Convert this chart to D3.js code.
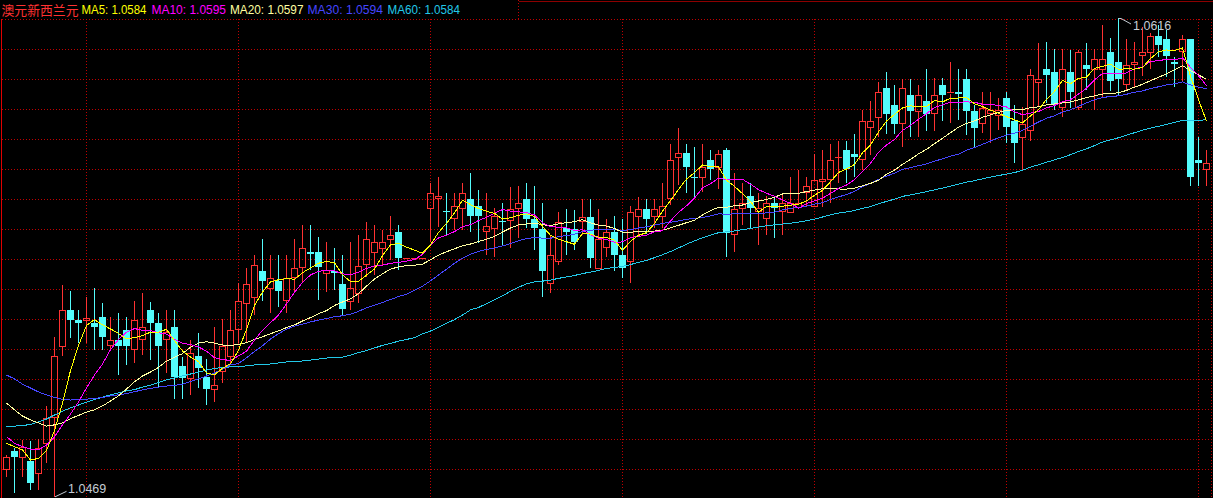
<!DOCTYPE html>
<html><head><meta charset="utf-8">
<script src="https://cdn.jsdelivr.net/npm/d3@7/dist/d3.min.js"></script>
<style>
html,body{margin:0;padding:0;background:#000;overflow:hidden}
svg{display:block}
</style></head><body>
<svg id="chart" width="1213" height="498"></svg>
<script>
// ---------------- data ----------------
const title = "澳元新西兰元";
const opens = [1.04775,1.04831,1.04813,1.04800,1.04762,1.04854,1.04936,1.05154,1.05264,1.05233,
1.05234,1.05223,1.05243,1.05156,1.05171,1.05202,1.05143,1.05174,1.05264,1.05225,
1.05174,1.05212,1.05093,1.05054,1.05122,1.05059,1.05022,1.05077,1.05122,1.05204,
1.05284,1.05304,1.05384,1.05330,1.05353,1.05294,1.05364,1.05395,1.05443,1.05443,
1.05376,1.05383,1.05343,1.05292,1.05315,1.05404,1.05443,1.05455,1.05482,1.05503,
1.05424,1.05424,1.05424,1.05576,1.05606,1.05566,1.05545,1.05576,1.05603,1.05583,
1.05506,1.05514,1.05536,1.05540,1.05576,1.05603,1.05542,1.05511,1.05346,1.05415,
1.05514,1.05511,1.05538,1.05550,1.05393,1.05456,1.05502,1.05432,1.05415,1.05553,
1.05573,1.05553,1.05553,1.05606,1.05734,1.05745,1.05672,1.05673,1.05724,1.05703,
1.05755,1.05497,1.05576,1.05614,1.05567,1.05545,1.05591,1.05568,1.05565,1.05581,
1.05627,1.05584,1.05661,1.05665,1.05732,1.05755,1.05742,1.05726,1.05824,1.05855,
1.05944,1.05893,1.05837,1.05924,1.05875,1.05905,1.05867,1.05954,1.05931,1.05934,
1.05973,1.05875,1.05837,1.05869,1.05862,1.05913,1.05844,1.05796,1.05816,1.05964,
1.06003,1.05995,1.05886,1.05995,1.05888,1.06016,1.06003,1.06003,1.06055,1.06026,
1.05957,1.06019,1.06046,1.06057,1.06105,1.06095,1.06026,1.06059,1.06095,1.05724,
1.05696];
const highs = [1.04818,1.04840,1.04864,1.04861,1.04868,1.04969,1.05181,1.05340,1.05322,1.05264,
1.05303,1.05331,1.05285,1.05242,1.05254,1.05242,1.05291,1.05316,1.05288,1.05254,
1.05264,1.05264,1.05119,1.05171,1.05193,1.05113,1.05211,1.05236,1.05264,1.05346,
1.05392,1.05432,1.05482,1.05432,1.05432,1.05432,1.05482,1.05525,1.05525,1.05488,
1.05472,1.05454,1.05432,1.05472,1.05494,1.05534,1.05525,1.05509,1.05552,1.05525,
1.05424,1.05424,1.05424,1.05653,1.05672,1.05623,1.05623,1.05653,1.05684,1.05632,
1.05623,1.05577,1.05592,1.05641,1.05644,1.05653,1.05644,1.05592,1.05494,1.05564,
1.05574,1.05571,1.05604,1.05604,1.05574,1.05543,1.05552,1.05543,1.05583,1.05610,
1.05604,1.05604,1.05653,1.05773,1.05822,1.05773,1.05764,1.05773,1.05755,1.05755,
1.05761,1.05684,1.05653,1.05653,1.05623,1.05614,1.05614,1.05617,1.05672,1.05693,
1.05672,1.05742,1.05755,1.05773,1.05782,1.05782,1.05804,1.05878,1.05905,1.05964,
1.05994,1.05954,1.05973,1.05973,1.05954,1.06003,1.05976,1.05976,1.06025,1.06003,
1.06003,1.05893,1.05933,1.05933,1.05914,1.05933,1.05893,1.05887,1.06003,1.06083,
1.06086,1.06065,1.06065,1.06062,1.06062,1.06083,1.06065,1.06139,1.06099,1.06160,
1.06096,1.06086,1.06132,1.06114,1.06139,1.06123,1.06040,1.06108,1.06095,1.05795,
1.05755];
const lows = [1.04751,1.04702,1.04751,1.04711,1.04711,1.04794,1.04690,1.05122,1.05178,1.05162,
1.05162,1.05141,1.05141,1.05141,1.05064,1.05095,1.05101,1.05125,1.05110,1.05027,
1.05070,1.04990,1.04990,1.05003,1.05024,1.04972,1.04981,1.05039,1.05101,1.05162,
1.05162,1.05248,1.05291,1.05254,1.05273,1.05254,1.05319,1.05346,1.05386,1.05294,
1.05319,1.05325,1.05248,1.05264,1.05285,1.05365,1.05371,1.05402,1.05417,1.05386,
1.05424,1.05424,1.05424,1.05472,1.05518,1.05494,1.05509,1.05509,1.05503,1.05469,
1.05432,1.05426,1.05463,1.05454,1.05485,1.05515,1.05448,1.05303,1.05316,1.05402,
1.05432,1.05448,1.05494,1.05392,1.05389,1.05426,1.05383,1.05362,1.05346,1.05494,
1.05497,1.05515,1.05515,1.05586,1.05647,1.05623,1.05607,1.05626,1.05663,1.05635,
1.05426,1.05442,1.05525,1.05512,1.05463,1.05494,1.05485,1.05494,1.05561,1.05577,
1.05580,1.05580,1.05580,1.05592,1.05653,1.05653,1.05672,1.05693,1.05739,1.05795,
1.05804,1.05804,1.05764,1.05795,1.05795,1.05813,1.05813,1.05844,1.05838,1.05847,
1.05801,1.05761,1.05807,1.05776,1.05816,1.05776,1.05715,1.05693,1.05782,1.05887,
1.05899,1.05878,1.05856,1.05884,1.05878,1.05939,1.05878,1.05917,1.05936,1.05924,
1.05936,1.05948,1.05982,1.06003,1.06040,1.05979,1.05948,1.05964,1.05644,1.05644,
1.05644];
const closes = [1.04811,1.04813,1.04844,1.04733,1.04839,1.04931,1.05122,1.05264,1.05233,1.05223,
1.05239,1.05212,1.05182,1.05171,1.05154,1.05154,1.05233,1.05212,1.05225,1.05154,
1.05197,1.05059,1.05054,1.05131,1.05085,1.05022,1.05032,1.05153,1.05202,1.05291,
1.05343,1.05402,1.05353,1.05361,1.05323,1.05361,1.05392,1.05453,1.05435,1.05395,
1.05386,1.05376,1.05266,1.05330,1.05400,1.05481,1.05471,1.05471,1.05493,1.05424,
1.05424,1.05424,1.05424,1.05622,1.05614,1.05564,1.05583,1.05622,1.05553,1.05553,
1.05522,1.05552,1.05534,1.05573,1.05591,1.05542,1.05514,1.05384,1.05432,1.05533,
1.05504,1.05473,1.05550,1.05424,1.05482,1.05502,1.05432,1.05393,1.05564,1.05573,
1.05543,1.05573,1.05583,1.05724,1.05745,1.05703,1.05670,1.05703,1.05696,1.05742,
1.05501,1.05573,1.05591,1.05576,1.05577,1.05591,1.05576,1.05591,1.05591,1.05591,
1.05644,1.05663,1.05665,1.05724,1.05733,1.05696,1.05734,1.05844,1.05844,1.05932,
1.05865,1.05835,1.05944,1.05875,1.05924,1.05865,1.05924,1.05924,1.05933,1.05926,
1.05875,1.05823,1.05883,1.05878,1.05878,1.05824,1.05775,1.05835,1.05985,1.05973,
1.05985,1.05896,1.06003,1.05934,1.06055,1.06003,1.06033,1.06033,1.05967,1.05973,
1.06016,1.06026,1.06057,1.06105,1.06077,1.06044,1.06018,1.06095,1.05673,1.05716,
1.05714];
// moving-average values shown before enough bars exist on screen
const ma5Lead  = [1.04854,1.04844,1.04834,1.04803];
const ma10Lead = [1.04875,1.04854,1.04844,1.04836,1.04834,1.04849,1.04874,1.04911,1.04944];
const ma20Lead = [1.04978,1.04957,1.04938,1.04926,1.04917,1.04907,1.04911,1.04917,1.04930,1.04940,
1.04950,1.04957,1.04969,1.04984,1.05000,1.05021,1.05043,1.05061,1.05073];
const ma30Lead = [1.05064,1.05052,1.05036,1.05024,1.05012,1.05003,1.04995,1.04989,1.04987,1.04989,
1.04990,1.04992,1.04995,1.05000,1.05003,1.05007,1.05013,1.05018,1.05023,1.05027,
1.05030,1.05032,1.05036,1.05044,1.05052,1.05061,1.05070,1.05082,1.05095];
const ma60Lead = [1.04905,1.04907,1.04909,1.04912,1.04920,1.04929,1.04941,1.04953,1.04963,1.04972,
1.04981,1.04989,1.04996,1.05003,1.05009,1.05015,1.05019,1.05027,1.05033,1.05041,
1.05049,1.05055,1.05061,1.05067,1.05073,1.05079,1.05084,1.05087,1.05089,1.05090,
1.05092,1.05095,1.05096,1.05098,1.05101,1.05104,1.05105,1.05107,1.05110,1.05113,
1.05116,1.05118,1.05119,1.05125,1.05133,1.05139,1.05147,1.05155,1.05161,1.05168,
1.05173,1.05179,1.05190,1.05199,1.05210,1.05223,1.05234,1.05248,1.05264];
const maPeriods = [5, 10, 20, 30, 60];
const maNames = ["MA5", "MA10", "MA20", "MA30", "MA60"];
// latest moving-average readings printed in the header
const maLatest = [1.0584, 1.0595, 1.0597, 1.0594, 1.0584];
const monthStartBars = [10, 29, 53, 77, 101, 125, 149];

// ---------------- drawing ----------------
const W = 1213, H = 498;
const svg = d3.select("#chart").attr("shape-rendering", "crispEdges");
svg.append("rect").attr("width", W).attr("height", H).attr("fill", "#000");

const n = closes.length;
const x = d3.scaleBand().domain(d3.range(n)).range([2.5, 1210.5])
  .paddingInner(0.125).paddingOuter(0.0625);
const cx = i => x(i) + x.bandwidth() / 2;
const y = d3.scaleLinear().domain([1.0469, 1.0616]).range([496.83, 18]);

const RED = "#FF3232", CYAN = "#54FCFC", GRID = "#C00000";
const maColors = ["#FFFF00", "#FF00FF", "#FFFFA0", "#4646FF", "#22C8E8"];

// grid
const grid = svg.append("g");
d3.range(19.5, H, 30).forEach(gy => {
  grid.append("line").attr("x1", 2).attr("x2", W).attr("y1", gy).attr("y2", gy)
    .attr("stroke", GRID).attr("stroke-dasharray", "1,2");
});
monthStartBars.forEach(i => {
  grid.append("line").attr("x1", cx(i)).attr("x2", cx(i)).attr("y1", 19).attr("y2", H)
    .attr("stroke", GRID).attr("stroke-dasharray", "1,2");
});
grid.append("line").attr("x1", 1211.5).attr("x2", 1211.5).attr("y1", 19).attr("y2", H)
  .attr("stroke", GRID).attr("stroke-dasharray", "1,2");
grid.append("line").attr("x1", 518.5).attr("x2", 518.5).attr("y1", 0).attr("y2", 19)
  .attr("stroke", GRID).attr("stroke-dasharray", "1,2");
grid.append("line").attr("x1", 519).attr("x2", W).attr("y1", 1.5).attr("y2", 1.5)
  .attr("stroke", "#8C0000");
grid.append("line").attr("x1", 1.5).attr("x2", 1.5).attr("y1", 19).attr("y2", H)
  .attr("stroke", "#E00000");

// candles
const cg = svg.append("g");
closes.forEach((c, i) => {
  const o = opens[i], h = highs[i], l = lows[i];
  const xc = cx(i), x0 = x(i), bw = x.bandwidth();
  const top = Math.round(y(Math.max(o, c))), bot = Math.round(y(Math.min(o, c)));
  const yh = Math.round(y(h)), yl = Math.round(y(l));
  if (c >= o) {
    if (yh < top) cg.append("line").attr("x1", xc).attr("x2", xc).attr("y1", yh).attr("y2", top).attr("stroke", RED);
    if (yl > bot) cg.append("line").attr("x1", xc).attr("x2", xc).attr("y1", bot + 1).attr("y2", yl).attr("stroke", RED);
    if (bot - top <= 1) {
      cg.append("line").attr("x1", x0).attr("x2", x0 + bw).attr("y1", top + 0.5).attr("y2", top + 0.5).attr("stroke", RED);
    } else {
      cg.append("rect").attr("x", x0 + 0.5).attr("y", top + 0.5).attr("width", bw - 1).attr("height", bot - top)
        .attr("fill", "none").attr("stroke", RED);
    }
  } else {
    cg.append("line").attr("x1", xc).attr("x2", xc).attr("y1", yh).attr("y2", yl).attr("stroke", CYAN);
    cg.append("rect").attr("x", x0).attr("y", top).attr("width", bw).attr("height", Math.max(1, bot - top))
      .attr("fill", CYAN);
  }
});

// moving averages
const leads = [ma5Lead, ma10Lead, ma20Lead, ma30Lead, ma60Lead];
const maSeries = maPeriods.map((p, k) =>
  closes.map((c, i) => i < p - 1 ? leads[k][i] : d3.mean(closes.slice(i - p + 1, i + 1))));
const line = d3.line().x((v, i) => cx(i)).y(v => y(v));
const mg = svg.append("g");
[4, 3, 2, 1, 0].forEach(k => {
  mg.append("path").attr("d", line(maSeries[k])).attr("fill", "none")
    .attr("stroke", maColors[k]).attr("stroke-width", 1);
});

// extreme labels
const LBL = "#C4CCD4";
const iMax = d3.maxIndex(highs), iMin = d3.minIndex(lows);
const hx = cx(iMax), hy = y(highs[iMax]);
svg.append("path").attr("d", `M${hx},${hy + 0.5}h2.5l10,5.5`).attr("fill", "none").attr("stroke", LBL)
  .attr("shape-rendering", "auto");
svg.append("text").attr("x", hx + 14.5).attr("y", hy + 11.5).attr("fill", LBL)
  .attr("font-family", "Liberation Sans, Arial, sans-serif").attr("font-size", 12.5)
  .text(highs[iMax].toFixed(4));
const lx = cx(iMin), ly = y(lows[iMin]);
svg.append("path").attr("d", `M${lx + 0.5},${ly}l11.5,-5.5`).attr("fill", "none").attr("stroke", LBL)
  .attr("shape-rendering", "auto");
svg.append("text").attr("x", lx + 13.5).attr("y", ly - 3.5).attr("fill", LBL)
  .attr("font-family", "Liberation Sans, Arial, sans-serif").attr("font-size", 12.5)
  .text(lows[iMin].toFixed(4));

// header
const hdr = svg.append("g").attr("shape-rendering", "auto");
hdr.append("text").attr("x", 1.5).attr("y", 15).attr("fill", "#FF3232")
  .attr("font-family", "Noto Sans CJK SC, sans-serif").attr("font-size", 13)
  .attr("textLength", 77).attr("lengthAdjust", "spacingAndGlyphs").text(title);
const hdrX = [81.5, 151.5, 230, 307.5, 387.5];
const hdrW = [65, 74.5, 73.5, 75.5, 72.5];
maPeriods.forEach((p, k) => {
  hdr.append("text").attr("x", hdrX[k]).attr("y", 14).attr("fill", maColors[k])
    .attr("font-family", "Liberation Sans, Arial, sans-serif").attr("font-size", 13)
    .attr("textLength", hdrW[k]).attr("lengthAdjust", "spacingAndGlyphs")
    .text(`${maNames[k]}: ${maLatest[k].toFixed(4)}`);
});
</script>
</body></html>
